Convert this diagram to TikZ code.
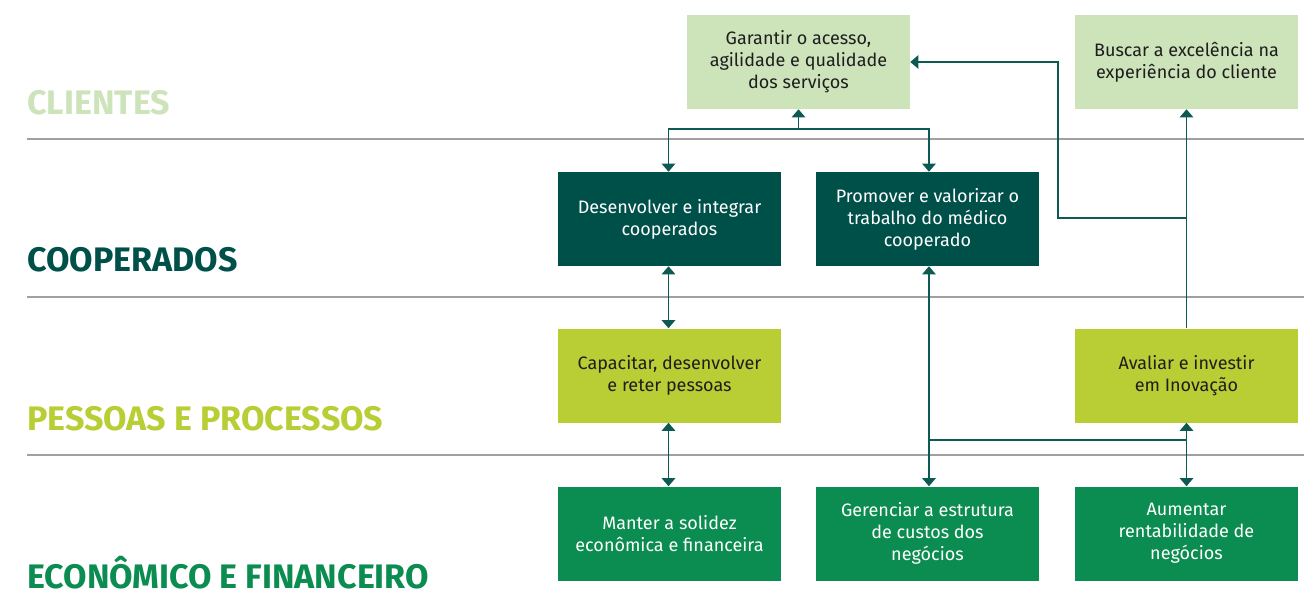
\documentclass[tikz,border=0pt]{standalone}
\usepackage{fontspec}
\setmainfont{Fira Sans}
\usetikzlibrary{arrows.meta}
\definecolor{clienteverde}{HTML}{CDE3BA}
\definecolor{cooptil}{HTML}{00504A}
\definecolor{pessoaslima}{HTML}{B9CD35}
\definecolor{economverde}{HTML}{0B8C50}
\definecolor{ligacao}{HTML}{0C5A52}
\definecolor{divisor}{HTML}{A0A0A0}
\definecolor{textoescuro}{HTML}{1E1E1E}
\tikzset{
 caixa/.style={minimum width=167.25pt,minimum height=70.5pt,inner sep=0pt,align=center,font=\fontsize{13.5}{16.5}\selectfont},
 caixaclara/.style={caixa,fill=clienteverde,text=textoescuro},
 caixacoop/.style={caixa,fill=cooptil,text=white},
 caixalima/.style={caixa,fill=pessoaslima,text=textoescuro},
 caixaecon/.style={caixa,fill=economverde,text=white},
 titulo/.style={anchor=base west,inner sep=0pt,font=\fontsize{25.5}{28}\selectfont\bfseries},
 seta/.style={draw=ligacao,line width=1.1pt,-{Triangle[width=10pt,length=6pt]}},
 setadupla/.style={draw=ligacao,line width=1.1pt,{Triangle[width=10pt,length=6pt]}-{Triangle[width=10pt,length=6pt]}},
 linha/.style={draw=ligacao,line width=1.1pt}
}
\begin{document}
\begin{tikzpicture}[x=0.75pt,y=-0.75pt]
 \useasboundingbox (0,0) rectangle (1304,606);
 % faixas
 \draw[divisor,line width=0.9pt] (27,139) -- (1304,139);
 \draw[divisor,line width=0.9pt] (27,297) -- (1304,297);
 \draw[divisor,line width=0.9pt] (27,455) -- (1304,455);
 \node[titulo,text=clienteverde] (clientes) at (27,115) {CLIENTES};
 \node[titulo,text=cooptil] (cooperados) at (27,272) {COOPERADOS};
 \node[titulo,text=pessoaslima] (pessoas) at (27,430) {PESSOAS E PROCESSOS};
 \node[titulo,text=economverde] (economico) at (27,588) {ECONÔMICO E FINANCEIRO};
 % caixas
 \node[caixaclara] (garantir) at (798.5,62) {Garantir o acesso,\\agilidade e qualidade\\dos serviços};
 \node[caixaclara] (buscar) at (1186.5,62) {Buscar a excelência na\\experiência do cliente};
 \node[caixacoop] (desenvolver) at (669.5,219) {Desenvolver e integrar\\cooperados};
 \node[caixacoop] (promover) at (927.5,219) {Promover e valorizar o\\trabalho do médico\\cooperado};
 \node[caixalima] (capacitar) at (669.5,375.5) {Capacitar, desenvolver\\e reter pessoas};
 \node[caixalima] (avaliar) at (1186.5,375.5) {Avaliar e investir\\em Inovação};
 \node[caixaecon] (manter) at (669.5,533.5) {Manter a solidez\\econômica e financeira};
 \node[caixaecon] (gerenciar) at (927.5,533.5) {Gerenciar a estrutura\\de custos dos\\negócios};
 \node[caixaecon] (aumentar) at (1186.5,533.5) {Aumentar\\rentabilidade de\\negócios};
 % ligacoes
 \coordinate (juntaA) at (798.5,129);
 \coordinate (juntaB) at (1186.5,218);
 \coordinate (juntaC) at (929,440);
 \coordinate (juntaD) at (1186.5,440);
 \draw[seta] (juntaA) -- (garantir.south);
 \draw[seta] (juntaA) -| ([xshift=-0.75pt]desenvolver.north);
 \draw[seta] (juntaA) -| ([xshift=1.1pt]promover.north);
 \draw[setadupla] ([xshift=-0.75pt]desenvolver.south) -- ([xshift=-0.75pt]capacitar.north);
 \draw[setadupla] ([xshift=-0.75pt]capacitar.south) -- ([xshift=-0.75pt]manter.north);
 \draw[setadupla] ([xshift=1.1pt]promover.south) -- ([xshift=1.1pt]gerenciar.north);
 \draw[setadupla] (avaliar.south) -- (aumentar.north);
 \draw[linha] (juntaC) -- (juntaD);
 \draw[seta] (avaliar.north) -- (buscar.south);
 \draw[seta] (juntaB) -- (1058,218) -- (1058,62) -- (garantir.east);
\end{tikzpicture}
\end{document}
